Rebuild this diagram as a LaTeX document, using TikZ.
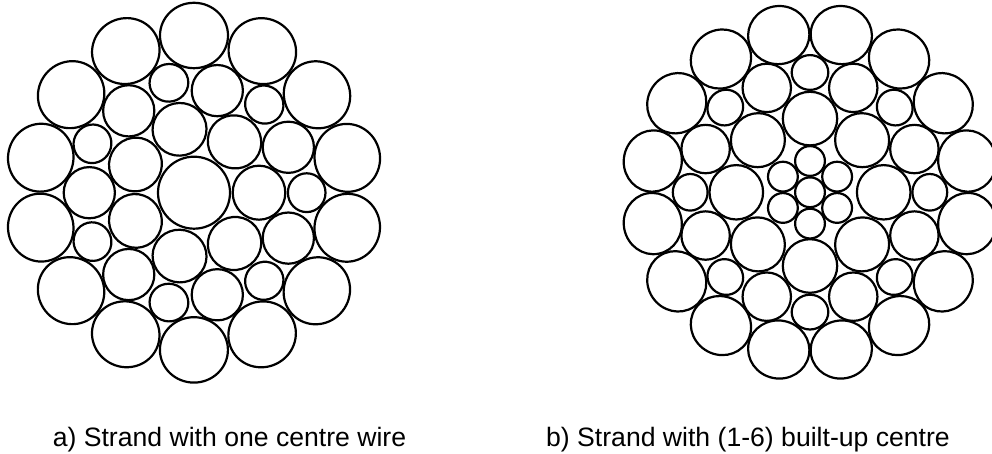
\documentclass[tikz,border=0pt]{standalone}
\usepackage{fontspec}
\setmainfont{Liberation Sans}

\tikzset{
    wire/.style={draw=black, line width=2.2pt},
    caption/.style={anchor=base, inner sep=0pt, font=\fontsize{26.6}{30}\selectfont}
}

\begin{document}
\begin{tikzpicture}[x=1pt,y=1pt]

    % --- Page frame ---
    \clip (0,0) rectangle (992,454);

    % --- Strand a: one centre wire ---
    % The outer wires are cut at a slant, so they are a little wider along the ring
    \begin{scope}[shift={(194,261.3)}]
        % Centre wire
        \draw[wire] (0,0) circle (36);
        % Rings of seven
        \foreach \a in {0,51.43,...,310} {
            \draw[wire] (\a:65) circle [x radius=26.3, y radius=27, rotate=\a];
            \draw[wire] (\a+25.71:104.7) circle (25.6);
            \draw[wire] (\a:112.7) circle [x radius=18.8, y radius=19.4, rotate=\a];
        }
        % Outer ring
        \foreach \a in {90,115.71,...,440} {
            \draw[wire] (\a:157.2) circle [x radius=32.7, y radius=34, rotate=\a];
        }
    \end{scope}

    % --- Strand b: built-up centre ---
    \begin{scope}[shift={(810,261.7)}]
        % Centre wire and its six neighbours
        \draw[wire] (0,0) circle (14.9);
        \foreach \a in {90,150,...,390} {
            \draw[wire] (\a:31.3) circle (14.9);
        }
        % Rings of eight
        \foreach \a in {0,45,...,315} {
            \draw[wire] (\a:73.7) circle [x radius=26.8, y radius=27.2, rotate=\a];
            \draw[wire] (\a+22.5:113) circle (24.2);
            \draw[wire] (\a:119.8) circle [x radius=17.4, y radius=18.3, rotate=\a];
        }
        % Outer ring
        \foreach \a in {11.25,33.75,...,350} {
            \draw[wire] (\a:160.3) circle [x radius=29, y radius=30.7, rotate=\a];
        }
    \end{scope}

    % --- Captions ---
    \node[caption] (capA) at (229.5,7.3) {a) Strand with one centre wire};
    \node[caption] (capB) at (748,7.3) {b) Strand with (1-6) built-up centre};

\end{tikzpicture}
\end{document}
